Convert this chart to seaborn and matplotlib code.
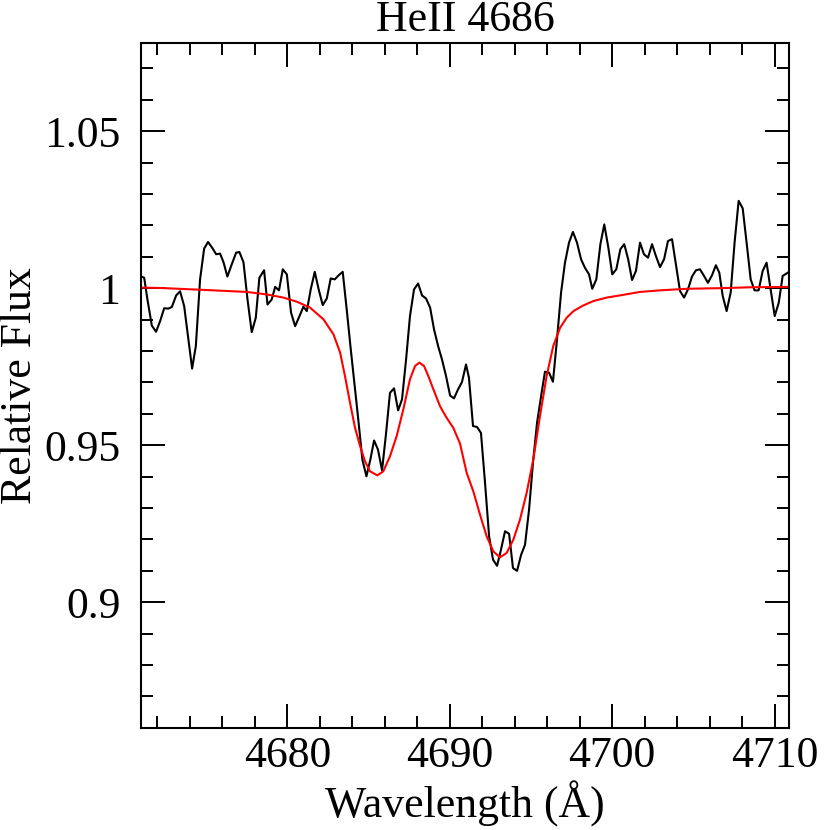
import matplotlib
matplotlib.use("Agg")
import matplotlib.pyplot as plt
import seaborn as sns
import pandas as pd
from matplotlib.ticker import MultipleLocator

# ---------------- data ----------------
wave_obs = [
    4670.94, 4671.19, 4671.39, 4671.66, 4671.92, 4672.17, 4672.42, 4672.68, 4672.89, 4673.16,
    4673.40, 4673.65, 4673.91, 4674.14, 4674.37, 4674.63, 4674.88, 4675.12, 4675.37, 4675.62,
    4675.86, 4676.07, 4676.31, 4676.58, 4676.85, 4677.05, 4677.30, 4677.55, 4677.81, 4678.06,
    4678.28, 4678.57, 4678.78, 4679.04, 4679.25, 4679.49, 4679.72, 4679.97, 4680.23, 4680.48,
    4680.75, 4680.99, 4681.20,
    4681.44, 4681.69, 4681.93, 4682.18, 4682.43, 4682.67, 4682.92, 4683.16, 4683.41, 4683.66,
    4683.90, 4684.15, 4684.38, 4684.62, 4684.87, 4685.11, 4685.34, 4685.58, 4685.83, 4686.08,
    4686.32, 4686.57, 4686.82, 4687.06, 4687.31, 4687.55, 4687.80, 4688.05, 4688.29, 4688.54,
    4688.79, 4689.03, 4689.28, 4689.52, 4689.77, 4690.02, 4690.26, 4690.51, 4690.75, 4691.00,
    4691.18, 4691.43, 4691.68, 4691.92, 4692.17, 4692.42, 4692.66, 4692.91, 4693.15, 4693.40,
    4693.65, 4693.89, 4694.14, 4694.39, 4694.63, 4694.88, 4695.12, 4695.37, 4695.62, 4695.86,
    4696.11, 4696.35, 4696.60, 4696.85, 4697.09, 4697.34, 4697.58, 4697.83, 4698.08, 4698.32,
    4698.57, 4698.77, 4699.02, 4699.27, 4699.51, 4699.76, 4700.00, 4700.25, 4700.50, 4700.74,
    4700.98, 4701.22, 4701.46, 4701.71, 4701.95, 4702.20, 4702.45, 4702.69, 4702.94, 4703.19,
    4703.43, 4703.68, 4703.92, 4704.17, 4704.42, 4704.66, 4704.91, 4705.15, 4705.40, 4705.65,
    4705.89, 4706.14, 4706.38, 4706.59, 4706.80, 4707.04, 4707.29, 4707.53, 4707.78, 4708.03,
    4708.27, 4708.52, 4708.76, 4709.01, 4709.26, 4709.50, 4709.75, 4710.00, 4710.25, 4710.49,
    4710.73, 4710.98,
]
flux_obs = [
    1.0039, 1.0033, 0.9964, 0.9881, 0.9861, 0.9895, 0.9936, 0.9935, 0.9940, 0.9977,
    0.9990, 0.9943, 0.9837, 0.9744, 0.9816, 1.0028, 1.0126, 1.0147, 1.0129, 1.0108,
    1.0110, 1.0083, 1.0037, 1.0076, 1.0113, 1.0115, 1.0083, 0.9964, 0.9860, 0.9906,
    1.0033, 1.0057, 0.9948, 0.9964, 1.0004, 0.9993, 1.0060, 1.0044, 0.9922, 0.9879,
    0.9911, 0.9941, 0.9927,
    0.9996, 1.0052, 0.9996, 0.9946, 0.9967, 1.0031, 1.0028, 1.0041, 1.0052, 0.9930,
    0.9808, 0.9687, 0.9576, 0.9454, 0.9401, 0.9454, 0.9515, 0.9486, 0.9420, 0.9539,
    0.9667, 0.9681, 0.9611, 0.9646, 0.9773, 0.9911, 0.9996, 1.0015, 0.9977, 0.9967,
    0.9938, 0.9869, 0.9816, 0.9773, 0.9720, 0.9658, 0.9649, 0.9678, 0.9701, 0.9757,
    0.9715, 0.9561, 0.9558, 0.9539, 0.9380, 0.9210, 0.9136, 0.9116, 0.9167, 0.9226,
    0.9218, 0.9109, 0.9100, 0.9151, 0.9183, 0.9295, 0.9444, 0.9571, 0.9656, 0.9734,
    0.9731, 0.9702, 0.9837, 0.9986, 1.0081, 1.0145, 1.0179, 1.0145, 1.0092, 1.0065,
    1.0044, 0.9998, 1.0028, 1.0140, 1.0203, 1.0129, 1.0044, 1.0060, 1.0124, 1.0140,
    1.0092, 1.0026, 1.0055, 1.0145, 1.0108, 1.0097, 1.0140, 1.0102, 1.0067, 1.0092,
    1.0150, 1.0156, 1.0076, 0.9991, 0.9970, 0.9996, 1.0037, 1.0057, 1.0060, 1.0039,
    1.0017, 1.0041, 1.0073, 1.0049, 0.9975, 0.9927, 0.9986, 1.0145, 1.0278, 1.0254,
    1.0145, 1.0028, 0.9993, 0.9993, 1.0055, 1.0081, 0.9996, 0.9911, 0.9954, 1.0039,
    1.0047, 1.0055,
]

wave_mod = [
    4670.94, 4672.48, 4675.04, 4677.50, 4678.73, 4679.76, 4680.58, 4681.40, 4682.22, 4682.84,
    4683.25, 4683.55, 4683.86, 4684.17, 4684.48, 4684.78, 4685.09, 4685.54, 4685.91, 4686.32,
    4686.73, 4687.14, 4687.55, 4687.86, 4688.13, 4688.42, 4688.68, 4688.99, 4689.40, 4689.81,
    4690.22, 4690.63, 4691.04, 4691.45, 4691.86, 4692.27, 4692.68, 4693.09, 4693.50, 4693.91,
    4694.32, 4694.73, 4695.14, 4695.55, 4695.96, 4696.37, 4696.79, 4697.20, 4697.61, 4698.22,
    4698.84, 4699.66, 4700.48, 4701.71, 4702.94, 4704.58, 4706.63, 4708.68, 4710.94,
]
flux_mod = [
    1.0002, 1.0000, 0.9994, 0.9988, 0.9980, 0.9970, 0.9957, 0.9938, 0.9901, 0.9853,
    0.9795, 0.9720, 0.9635, 0.9555, 0.9497, 0.9449, 0.9417, 0.9404, 0.9417, 0.9465,
    0.9529, 0.9614, 0.9710, 0.9752, 0.9763, 0.9752, 0.9720, 0.9678, 0.9624, 0.9587,
    0.9555, 0.9505, 0.9412, 0.9353, 0.9279, 0.9210, 0.9162, 0.9143, 0.9157, 0.9199,
    0.9263, 0.9348, 0.9454, 0.9592, 0.9720, 0.9816, 0.9874, 0.9906, 0.9927, 0.9945,
    0.9959, 0.9970, 0.9977, 0.9988, 0.9993, 0.9998, 1.0000, 1.0003, 1.0004,
]

x_ticks = [4680, 4690, 4700, 4710]
x_tick_labels = ["4680", "4690", "4700", "4710"]
y_ticks = [0.9, 0.95, 1.0, 1.05]
y_tick_labels = ["0.9", "0.95", "1", "1.05"]

title_text = "HeII 4686"
x_label = "Wavelength (Å)"
y_label = "Relative Flux"

# ---------------- style ----------------
sns.set_style("ticks")
plt.rcParams["font.family"] = ["Liberation Serif", "DejaVu Serif"]
plt.rcParams["text.color"] = "black"
plt.rcParams["axes.labelcolor"] = "black"
plt.rcParams["xtick.color"] = "black"
plt.rcParams["ytick.color"] = "black"
FS = 31.5

obs = pd.DataFrame({"wave": wave_obs, "flux": flux_obs})
mod = pd.DataFrame({"wave": wave_mod, "flux": flux_mod})

fig = plt.figure(figsize=(8.3, 8.3), dpi=100)
ax = fig.add_axes([0.170, 0.123, 0.781, 0.825])

sns.lineplot(data=obs, x="wave", y="flux", ax=ax, color="black", lw=1.5,
             sort=False, estimator=None)
sns.lineplot(data=mod, x="wave", y="flux", ax=ax, color="#ff0000", lw=1.5,
             sort=False, estimator=None)

ax.set_xlim(4671.0, 4710.9)
ax.set_ylim(0.86, 1.078)

ax.set_xticks(x_ticks)
ax.set_xticklabels(x_tick_labels)
ax.set_yticks(y_ticks)
ax.set_yticklabels(y_tick_labels)
ax.xaxis.set_minor_locator(MultipleLocator(2))
ax.yaxis.set_minor_locator(MultipleLocator(0.01))

ax.tick_params(which="both", direction="in", top=True, right=True,
               width=1.4, colors="black", labelcolor="black", labelsize=FS)
ax.tick_params(which="major", length=17)
ax.tick_params(which="minor", length=8.5)
ax.tick_params(axis="x", which="major", pad=6)
ax.tick_params(axis="y", which="major", pad=15)

for s in ax.spines.values():
    s.set_linewidth(1.5)
    s.set_color("black")

ax.set_title(title_text, fontsize=FS, pad=9, color="black")
ax.set_xlabel(x_label, fontsize=FS, labelpad=3, color="black")
ax.set_ylabel(y_label, fontsize=FS, labelpad=3, color="black")

fig.savefig("out.png", dpi=100)
